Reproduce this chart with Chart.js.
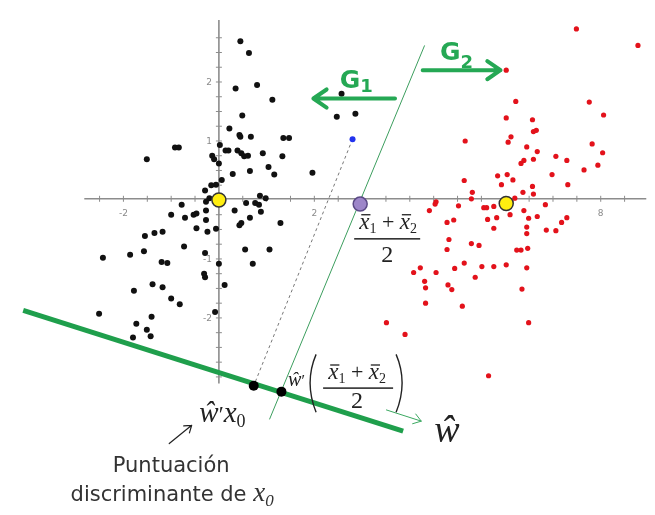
<!DOCTYPE html>
<html>
<head>
<meta charset="utf-8">
<script src="https://cdn.jsdelivr.net/npm/chart.js@4.4.0/dist/chart.umd.min.js"></script>
<style>
  html, body { margin: 0; padding: 0; background: #fff; }
  #contenedor { width: 655px; height: 515px; }
</style>
</head>
<body>
<div id="contenedor"><canvas id="grafico"></canvas></div>
<script>
// Grupo 1 (puntos negros)
const grupo1 = [
  [-0.92, 0.89], [-0.84, 0.89], [-1.51, 0.69], [-0.29, 0.16], [-0.78, -0.08], [-1.00, -0.25],
  [-0.71, -0.30], [-0.53, -0.25], [-0.47, -0.23], [-0.27, -0.18], [-0.27, -0.34], [-0.47, -0.48],
  [-0.24, -0.54], [-1.55, -0.61], [-1.35, -0.56], [-1.18, -0.54], [-0.73, -0.79], [-0.29, -0.90],
  [-1.57, -0.87], [-1.86, -0.93], [-2.43, -0.98], [-1.20, -1.05], [-1.08, -1.07], [-0.31, -1.25],
  [-0.29, -1.31], [-1.39, -1.43], [-1.18, -1.48], [-1.78, -1.54], [-1.00, -1.67], [-0.82, -1.77],
  [-2.51, -1.93], [-1.41, -1.98], [-1.73, -2.10], [-1.51, -2.20], [-1.80, -2.33], [-1.43, -2.31],
  [0.45, 2.69], [0.63, 2.49], [0.35, 1.89], [0.80, 1.95], [1.12, 1.70], [0.49, 1.43],
  [0.22, 1.21], [0.43, 1.10], [0.45, 1.07], [0.67, 1.07], [1.35, 1.05], [1.47, 1.05],
  [0.02, 0.93], [0.14, 0.84], [0.20, 0.84], [0.39, 0.84], [0.47, 0.79], [0.53, 0.74],
  [0.61, 0.75], [-0.14, 0.75], [-0.10, 0.69], [0.92, 0.79], [1.33, 0.74], [0.00, 0.62],
  [1.04, 0.56], [1.16, 0.43], [0.65, 0.49], [0.29, 0.44], [1.96, 0.46], [0.06, 0.34],
  [-0.06, 0.26], [-0.16, 0.25], [0.86, 0.07], [0.98, 0.03], [-0.20, 0.03], [0.57, -0.05],
  [0.76, -0.05], [0.84, -0.08], [-0.27, -0.03], [0.33, -0.18], [0.65, -0.30], [0.88, -0.20],
  [0.47, -0.39], [0.43, -0.43], [1.29, -0.39], [-0.06, -0.49], [0.55, -0.84], [1.06, -0.84],
  [0.71, -1.08], [0.00, -1.08], [0.12, -1.44], [-0.08, -1.90], [2.57, 1.80], [2.47, 1.41],
  [2.86, 1.46]
];

// Grupo 2 (puntos rojos)
const grupo2 = [
  [7.49, 2.90], [8.78, 2.62], [6.02, 2.20], [6.22, 1.67], [7.76, 1.66], [8.06, 1.44],
  [6.02, 1.39], [6.57, 1.36], [6.59, 1.16], [6.65, 1.18], [5.16, 1.00], [6.12, 1.07],
  [6.06, 0.98], [6.45, 0.90], [7.82, 0.95], [6.67, 0.82], [8.04, 0.80], [6.59, 0.69],
  [6.39, 0.67], [6.33, 0.62], [7.06, 0.74], [7.29, 0.67], [7.94, 0.59], [7.65, 0.51],
  [6.98, 0.43], [7.31, 0.26], [5.84, 0.41], [6.04, 0.43], [6.16, 0.34], [5.92, 0.26],
  [6.57, 0.23], [5.14, 0.33], [5.31, 0.13], [6.37, 0.13], [6.59, 0.10], [6.20, 0.03],
  [5.29, 0.02], [4.55, -0.03], [4.53, -0.07], [4.41, -0.18], [5.02, -0.10], [5.55, -0.13],
  [5.61, -0.13], [5.76, -0.11], [6.10, -0.25], [6.84, -0.08], [6.39, -0.18], [6.49, -0.31],
  [6.67, -0.28], [5.63, -0.33], [5.82, -0.30], [5.76, -0.48], [6.45, -0.46], [6.86, -0.51],
  [7.06, -0.52], [7.18, -0.38], [7.29, -0.30], [6.45, -0.57], [4.78, -0.38], [4.92, -0.34],
  [4.82, -0.67], [4.78, -0.84], [5.29, -0.74], [5.45, -0.77], [6.47, -0.82], [6.24, -0.85],
  [6.33, -0.85], [5.14, -1.07], [4.94, -1.16], [4.08, -1.23], [4.22, -1.15], [4.55, -1.23],
  [5.37, -1.31], [4.31, -1.38], [4.33, -1.49], [4.80, -1.44], [4.88, -1.52], [5.51, -1.13],
  [5.76, -1.13], [6.02, -1.10], [6.45, -1.15], [4.33, -1.75], [5.10, -1.80], [6.35, -1.51],
  [3.51, -2.08], [3.90, -2.28], [6.49, -2.08], [5.65, -2.98]
];

// Medias, punto medio y observación x0
const medias = [[0.00, 0.00], [6.02, -0.06]];
const puntoMedio = [[2.96, -0.07]];
const x0 = [[2.80, 1.03]];
const proyecciones = [[0.73, -3.15], [1.31, -3.25]];

// Rectas
const ejeX = [[-2.82, 0.02], [8.96, 0.02]];
const ejeY = [[0.00, 3.05], [0.00, -3.11]];
const frontera = [[4.31, 2.62], [1.06, -3.72]];
const lineaX0 = [[2.80, 1.03], [0.73, -3.15]];
const ejeW = [[-4.10, -1.87], [3.86, -3.92]];
const flechaW = [[3.51, -3.56], [4.24, -3.75]];

// Marcas y etiquetas de los ejes
const marcasX = [-2.5, -2, -1.5, -1, -0.5, 0.5, 1, 1.5, 2, 2.5, 3, 3.5, 4, 4.5, 5, 5.5, 6, 6.5, 7, 7.5, 8, 8.5];
const marcasY = [2.75, 2.5, 2.25, 2, 1.75, 1.5, 1.25, 1, 0.75, 0.5, 0.25, -0.25, -0.5, -0.75, -1, -1.25, -1.5, -1.75, -2, -2.25, -2.5, -2.75, -3];
const etiquetasX = [-2, 2, 8];
const etiquetasY = [2, 1, -1, -2];

const pares = arr => arr.map(p => ({ x: p[0], y: p[1] }));

const verde = '#1f9f4c';
const serif = '"Liberation Serif", "DejaVu Serif", serif';
const sans = '"DejaVu Sans", Verdana, sans-serif';

function linea(datos, color, ancho, orden, dash) {
  return {
    data: pares(datos), showLine: true, borderColor: color, borderWidth: ancho,
    borderDash: dash || [], pointRadius: 0, order: orden, fill: false
  };
}

function puntos(datos, color, borde, radio, orden, bw) {
  return {
    data: pares(datos), showLine: false, backgroundColor: color, borderColor: borde,
    borderWidth: bw || 0, pointRadius: radio, order: orden
  };
}

// Texto con partes (subíndices, barras)
function texto(ctx, partes, x, y, alinear) {
  let ancho = 0;
  for (const p of partes) { ctx.font = p.f; ancho += ctx.measureText(p.t).width; }
  let cx = alinear === 'center' ? x - ancho / 2 : x;
  for (const p of partes) {
    ctx.font = p.f;
    const w = ctx.measureText(p.t).width;
    ctx.fillText(p.t, cx, y + (p.dy || 0));
    if (p.barra) ctx.fillRect(cx + 2, y - p.barra, w - 1, 1.3);
    cx += w;
  }
  return ancho;
}

function flecha(ctx, x1, y1, x2, y2, cabeza, ancho, color) {
  const a = Math.atan2(y2 - y1, x2 - x1);
  ctx.save();
  ctx.strokeStyle = color;
  ctx.lineWidth = ancho;
  ctx.lineCap = 'round';
  ctx.lineJoin = 'round';
  ctx.beginPath();
  ctx.moveTo(x1, y1);
  ctx.lineTo(x2, y2);
  ctx.moveTo(x2 - cabeza * Math.cos(a - 0.6), y2 - cabeza * Math.sin(a - 0.6));
  ctx.lineTo(x2, y2);
  ctx.lineTo(x2 - cabeza * Math.cos(a + 0.6), y2 - cabeza * Math.sin(a + 0.6));
  ctx.stroke();
  ctx.restore();
}

const anotaciones = {
  id: 'anotaciones',
  afterDatasetsDraw(chart) {
    const ctx = chart.ctx;
    const sx = chart.scales.x, sy = chart.scales.y;
    const P = (x, y) => [sx.getPixelForValue(x), sy.getPixelForValue(y)];
    ctx.save();

    // etiquetas de los ejes
    ctx.fillStyle = '#8a8a8a';
    ctx.font = '9px ' + sans;
    ctx.textAlign = 'center';
    etiquetasX.forEach(v => { const [x, y] = P(v, 0); ctx.fillText(String(v), x, y + 16); });
    ctx.textAlign = 'right';
    etiquetasY.forEach(v => { const [x, y] = P(0, v); ctx.fillText(String(v), x - 7, y + 3); });
    ctx.textAlign = 'left';

    // G1 y G2
    ctx.fillStyle = '#25a854';
    let [gx, gy] = P(2.53, 1.90);
    texto(ctx, [{ t: 'G', f: 'bold 25px ' + sans }, { t: '1', f: 'bold 18px ' + sans, dy: 4 }], gx, gy);
    [gx, gy] = P(4.63, 2.38);
    texto(ctx, [{ t: 'G', f: 'bold 25px ' + sans }, { t: '2', f: 'bold 18px ' + sans, dy: 8 }], gx, gy);
    let a = P(3.69, 1.72), b = P(1.98, 1.72);
    flecha(ctx, a[0], a[1], b[0], b[1], 16, 4, '#25a854');
    a = P(4.27, 2.20); b = P(5.90, 2.20);
    flecha(ctx, a[0], a[1], b[0], b[1], 16, 4, '#25a854');

    // flecha del vector w
    a = P(flechaW[0][0], flechaW[0][1]); b = P(flechaW[1][0], flechaW[1][1]);
    flecha(ctx, a[0], a[1], b[0], b[1], 9, 1, '#3aa860');

    // fracción bajo el punto medio
    ctx.fillStyle = '#222';
    const I = s => 'italic ' + s + 'px ' + serif;
    const R = s => s + 'px ' + serif;
    const numerador = [
      { t: 'x', f: I(23), barra: 15 }, { t: '1', f: R(14), dy: 4 },
      { t: ' + ', f: R(22) },
      { t: 'x', f: I(23), barra: 15 }, { t: '2', f: R(14), dy: 4 }
    ];
    const [mx, my] = P(puntoMedio[0][0], puntoMedio[0][1]);
    texto(ctx, numerador, mx + 28, my + 25, 'center');
    ctx.fillRect(mx - 6, my + 34, 66, 1.5);
    ctx.font = R(24); ctx.textAlign = 'center';
    ctx.fillText('2', mx + 27, my + 58);
    ctx.textAlign = 'left';

    // w'x0
    let [tx, ty] = P(-0.41, -3.77);
    texto(ctx, [{ t: 'ŵ', f: I(29) }, { t: '\u2032', f: R(23) }, { t: 'x', f: I(29) }, { t: '0', f: R(18), dy: 5 }], tx, ty);

    // w'((x1+x2)/2)
    [tx, ty] = P(1.45, -3.16);
    texto(ctx, [{ t: 'ŵ', f: I(20) }, { t: '\u2032', f: R(16) }], tx, ty);
    ctx.strokeStyle = '#222'; ctx.lineWidth = 1.4;
    ctx.beginPath();
    ctx.moveTo(tx + 28, ty - 32); ctx.quadraticCurveTo(tx + 16, ty - 4, tx + 28, ty + 26);
    ctx.moveTo(tx + 108, ty - 32); ctx.quadraticCurveTo(tx + 120, ty - 4, tx + 108, ty + 26);
    ctx.stroke();
    texto(ctx, numerador, tx + 69, ty - 7, 'center');
    ctx.fillRect(tx + 35, ty + 1, 70, 1.5);
    ctx.font = R(24); ctx.textAlign = 'center';
    ctx.fillText('2', tx + 69, ty + 22);
    ctx.textAlign = 'left';

    // w
    [tx, ty] = P(4.51, -4.10);
    texto(ctx, [{ t: 'ŵ', f: I(38) }], tx, ty);

    // puntuación discriminante
    a = P(-1.04, -4.13); b = P(-0.57, -3.82);
    flecha(ctx, a[0], a[1], b[0], b[1], 8, 1.2, '#222');
    ctx.fillStyle = '#333';
    [tx, ty] = P(-1.00, -4.61);
    ctx.font = '21px ' + sans; ctx.textAlign = 'center';
    ctx.fillText('Puntuación', tx, ty);
    ctx.textAlign = 'left';
    [tx, ty] = P(-0.98, -5.11);
    texto(ctx, [{ t: 'discriminante de ', f: '21px ' + sans }, { t: 'x', f: I(27) }, { t: '0', f: I(17), dy: 5 }], tx, ty, 'center');

    ctx.restore();
  }
};

new Chart(document.getElementById('grafico').getContext('2d'), {
  type: 'scatter',
  data: {
    datasets: [
      linea(ejeX, '#8c8c8c', 1.6, 20),
      linea(ejeY, '#8c8c8c', 1.6, 20),
      { data: marcasX.map(v => ({ x: v, y: 0.02 })), showLine: false, pointStyle: 'line', rotation: 90,
        pointRadius: 3, borderColor: '#8c8c8c', borderWidth: 1, order: 19 },
      { data: marcasY.map(v => ({ x: 0, y: v })), showLine: false, pointStyle: 'line', rotation: 0,
        pointRadius: 3, borderColor: '#8c8c8c', borderWidth: 1, order: 19 },
      linea(frontera, '#3c9e5e', 1, 15),
      linea(lineaX0, '#777', 1, 15, [3, 3]),
      linea(ejeW, verde, 5, 14),
      puntos(grupo1, '#111', '#111', 3, 10),
      puntos(grupo2, '#e3121b', '#c0101a', 2.6, 10),
      puntos(x0, '#2233ee', '#2233ee', 3, 8),
      puntos(medias, '#ffee10', '#333', 7, 5, 1.5),
      puntos(puntoMedio, '#9d86c9', '#5b4a86', 7, 5, 1.5),
      puntos(proyecciones, '#000', '#000', 5, 4)
    ]
  },
  options: {
    responsive: true,
    maintainAspectRatio: false,
    animation: false,
    events: [],
    layout: { padding: 0 },
    plugins: { legend: { display: false }, tooltip: { enabled: false } },
    scales: {
      x: { type: 'linear', min: -4.408, max: 8.959, display: false },
      y: { type: 'linear', min: -5.197, max: 3.246, display: false }
    }
  },
  plugins: [anotaciones]
});
</script>
</body>
</html>
